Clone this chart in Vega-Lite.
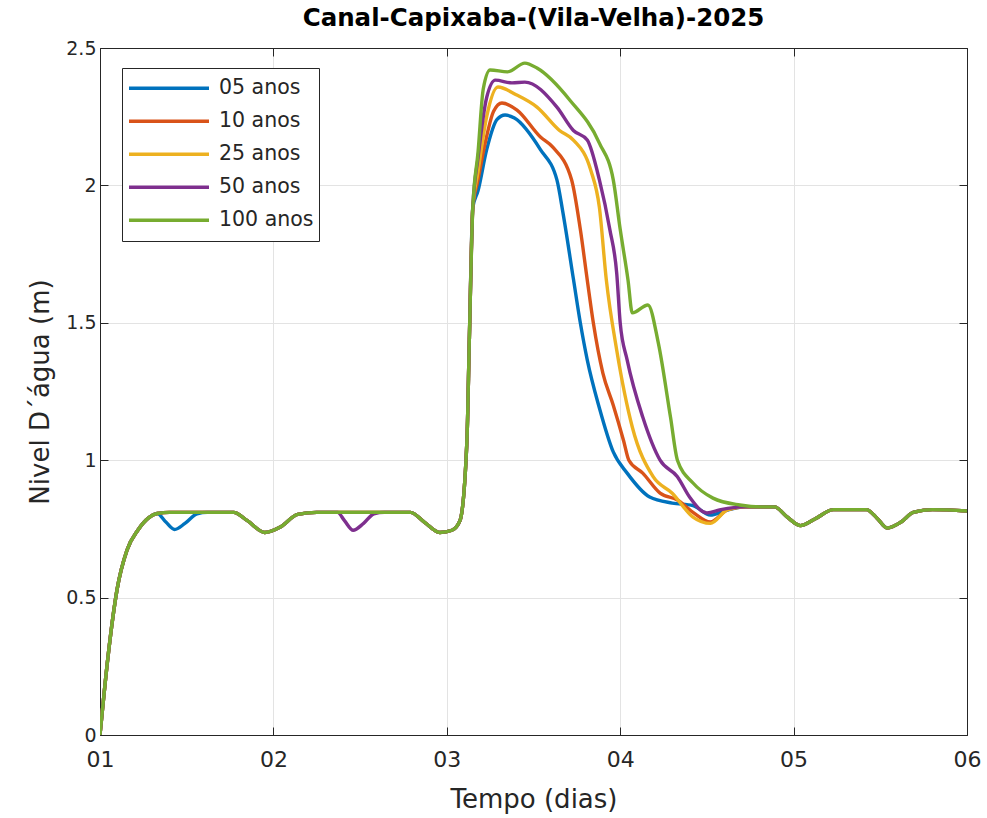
{
  "$schema": "https://vega.github.io/schema/vega-lite/v6.json",
  "width": 867,
  "height": 687,
  "autosize": {"type": "none"},
  "padding": {"left": 100, "top": 48, "right": 20, "bottom": 83},
  "background": "white",
  "config": {
    "view": {"stroke": "#262626", "strokeWidth": 1},
    "font": "DejaVu Sans"
  },
  "title": {
    "text": "Canal-Capixaba-(Vila-Velha)-2025",
    "font": "DejaVu Sans",
    "fontSize": 24.5,
    "fontWeight": "bold",
    "color": "#000000",
    "offset": 8,
    "anchor": "middle"
  },
  "data": {
    "values": [
      {"s":"05 anos","t":1.000,"v":0},{"s":"05 anos","t":1.046,"v":0.284},{"s":"05 anos","t":1.098,"v":0.528},{"s":"05 anos","t":1.156,"v":0.673},{"s":"05 anos","t":1.219,"v":0.746},{"s":"05 anos","t":1.28,"v":0.79},{"s":"05 anos","t":1.33,"v":0.806},
      {"s":"05 anos","t":1.38,"v":0.775},{"s":"05 anos","t":1.43,"v":0.748},{"s":"05 anos","t":1.49,"v":0.77},{"s":"05 anos","t":1.56,"v":0.805},{"s":"05 anos","t":1.62,"v":0.81},
      {"s":"05 anos","t":1.77,"v":0.81},{"s":"05 anos","t":1.85,"v":0.78},{"s":"05 anos","t":1.95,"v":0.737},{"s":"05 anos","t":2.04,"v":0.757},{"s":"05 anos","t":2.14,"v":0.803},{"s":"05 anos","t":2.25,"v":0.81},{"s":"05 anos","t":2.37,"v":0.81},
      {"s":"05 anos","t":2.50,"v":0.81},{"s":"05 anos","t":2.64,"v":0.81},
      {"s":"05 anos","t":2.79,"v":0.81},{"s":"05 anos","t":2.87,"v":0.775},{"s":"05 anos","t":2.96,"v":0.737},{"s":"05 anos","t":3.03,"v":0.745},{"s":"05 anos","t":3.076,"v":0.78},{"s":"05 anos","t":3.116,"v":1.07},{"s":"05 anos","t":3.13,"v":1.44},{"s":"05 anos","t":3.15,"v":1.92},
      {"s":"05 anos","t":3.18,"v":1.98},{"s":"05 anos","t":3.23,"v":2.13},{"s":"05 anos","t":3.29,"v":2.24},{"s":"05 anos","t":3.336,"v":2.256},{"s":"05 anos","t":3.39,"v":2.245},{"s":"05 anos","t":3.54,"v":2.13},{"s":"05 anos","t":3.635,"v":2.02},{"s":"05 anos","t":3.67,"v":1.90},{"s":"05 anos","t":3.73,"v":1.66},{"s":"05 anos","t":3.77,"v":1.50},{"s":"05 anos","t":3.81,"v":1.365},{"s":"05 anos","t":3.88,"v":1.19},{"s":"05 anos","t":3.96,"v":1.03},{"s":"05 anos","t":4.04,"v":0.953},{"s":"05 anos","t":4.17,"v":0.866},{"s":"05 anos","t":4.30,"v":0.844},{"s":"05 anos","t":4.42,"v":0.835},{"s":"05 anos","t":4.52,"v":0.80},{"s":"05 anos","t":4.60,"v":0.815},{"s":"05 anos","t":4.72,"v":0.83},
      {"s":"05 anos","t":4.81,"v":0.83},{"s":"05 anos","t":4.89,"v":0.83},{"s":"05 anos","t":4.96,"v":0.795},{"s":"05 anos","t":5.04,"v":0.762},{"s":"05 anos","t":5.12,"v":0.785},{"s":"05 anos","t":5.23,"v":0.82},{"s":"05 anos","t":5.42,"v":0.82},{"s":"05 anos","t":5.48,"v":0.79},{"s":"05 anos","t":5.54,"v":0.753},{"s":"05 anos","t":5.62,"v":0.775},{"s":"05 anos","t":5.69,"v":0.81},{"s":"05 anos","t":5.80,"v":0.82},{"s":"05 anos","t":6.0,"v":0.815},

      {"s":"10 anos","t":1.000,"v":0},{"s":"10 anos","t":1.046,"v":0.284},{"s":"10 anos","t":1.098,"v":0.528},{"s":"10 anos","t":1.156,"v":0.673},{"s":"10 anos","t":1.219,"v":0.746},{"s":"10 anos","t":1.28,"v":0.79},{"s":"10 anos","t":1.33,"v":0.806},
      {"s":"10 anos","t":1.40,"v":0.81},{"s":"10 anos","t":1.50,"v":0.81},{"s":"10 anos","t":1.62,"v":0.81},
      {"s":"10 anos","t":1.77,"v":0.81},{"s":"10 anos","t":1.85,"v":0.78},{"s":"10 anos","t":1.95,"v":0.737},{"s":"10 anos","t":2.04,"v":0.757},{"s":"10 anos","t":2.14,"v":0.803},{"s":"10 anos","t":2.25,"v":0.81},{"s":"10 anos","t":2.37,"v":0.81},
      {"s":"10 anos","t":2.50,"v":0.81},{"s":"10 anos","t":2.64,"v":0.81},
      {"s":"10 anos","t":2.79,"v":0.81},{"s":"10 anos","t":2.87,"v":0.775},{"s":"10 anos","t":2.96,"v":0.737},{"s":"10 anos","t":3.03,"v":0.745},{"s":"10 anos","t":3.076,"v":0.78},{"s":"10 anos","t":3.116,"v":1.07},{"s":"10 anos","t":3.13,"v":1.44},{"s":"10 anos","t":3.15,"v":1.92},
      {"s":"10 anos","t":3.18,"v":2.02},{"s":"10 anos","t":3.22,"v":2.15},{"s":"10 anos","t":3.27,"v":2.27},{"s":"10 anos","t":3.318,"v":2.30},{"s":"10 anos","t":3.405,"v":2.274},{"s":"10 anos","t":3.54,"v":2.176},{"s":"10 anos","t":3.61,"v":2.14},{"s":"10 anos","t":3.72,"v":2.02},{"s":"10 anos","t":3.77,"v":1.84},{"s":"10 anos","t":3.81,"v":1.656},{"s":"10 anos","t":3.845,"v":1.50},{"s":"10 anos","t":3.90,"v":1.317},{"s":"10 anos","t":3.96,"v":1.20},{"s":"10 anos","t":4.02,"v":1.07},{"s":"10 anos","t":4.05,"v":1.0},{"s":"10 anos","t":4.13,"v":0.953},{"s":"10 anos","t":4.23,"v":0.88},{"s":"10 anos","t":4.33,"v":0.855},{"s":"10 anos","t":4.42,"v":0.81},{"s":"10 anos","t":4.52,"v":0.775},{"s":"10 anos","t":4.62,"v":0.82},{"s":"10 anos","t":4.72,"v":0.83},
      {"s":"10 anos","t":4.81,"v":0.83},{"s":"10 anos","t":4.89,"v":0.83},{"s":"10 anos","t":4.96,"v":0.795},{"s":"10 anos","t":5.04,"v":0.762},{"s":"10 anos","t":5.12,"v":0.785},{"s":"10 anos","t":5.23,"v":0.82},{"s":"10 anos","t":5.42,"v":0.82},{"s":"10 anos","t":5.48,"v":0.79},{"s":"10 anos","t":5.54,"v":0.753},{"s":"10 anos","t":5.62,"v":0.775},{"s":"10 anos","t":5.69,"v":0.81},{"s":"10 anos","t":5.80,"v":0.82},{"s":"10 anos","t":6.0,"v":0.815},

      {"s":"25 anos","t":1.000,"v":0},{"s":"25 anos","t":1.046,"v":0.284},{"s":"25 anos","t":1.098,"v":0.528},{"s":"25 anos","t":1.156,"v":0.673},{"s":"25 anos","t":1.219,"v":0.746},{"s":"25 anos","t":1.28,"v":0.79},{"s":"25 anos","t":1.33,"v":0.806},
      {"s":"25 anos","t":1.40,"v":0.81},{"s":"25 anos","t":1.50,"v":0.81},{"s":"25 anos","t":1.62,"v":0.81},
      {"s":"25 anos","t":1.77,"v":0.81},{"s":"25 anos","t":1.85,"v":0.78},{"s":"25 anos","t":1.95,"v":0.737},{"s":"25 anos","t":2.04,"v":0.757},{"s":"25 anos","t":2.14,"v":0.803},{"s":"25 anos","t":2.25,"v":0.81},{"s":"25 anos","t":2.37,"v":0.81},
      {"s":"25 anos","t":2.50,"v":0.81},{"s":"25 anos","t":2.64,"v":0.81},
      {"s":"25 anos","t":2.79,"v":0.81},{"s":"25 anos","t":2.87,"v":0.775},{"s":"25 anos","t":2.96,"v":0.737},{"s":"25 anos","t":3.03,"v":0.745},{"s":"25 anos","t":3.076,"v":0.78},{"s":"25 anos","t":3.116,"v":1.07},{"s":"25 anos","t":3.13,"v":1.44},{"s":"25 anos","t":3.15,"v":1.92},
      {"s":"25 anos","t":3.18,"v":2.05},{"s":"25 anos","t":3.23,"v":2.25},{"s":"25 anos","t":3.295,"v":2.358},{"s":"25 anos","t":3.40,"v":2.33},{"s":"25 anos","t":3.52,"v":2.285},{"s":"25 anos","t":3.65,"v":2.20},{"s":"25 anos","t":3.73,"v":2.165},{"s":"25 anos","t":3.83,"v":2.056},{"s":"25 anos","t":3.88,"v":1.92},{"s":"25 anos","t":3.92,"v":1.656},{"s":"25 anos","t":3.98,"v":1.40},{"s":"25 anos","t":4.07,"v":1.12},{"s":"25 anos","t":4.19,"v":0.94},{"s":"25 anos","t":4.30,"v":0.88},{"s":"25 anos","t":4.42,"v":0.793},{"s":"25 anos","t":4.52,"v":0.77},{"s":"25 anos","t":4.62,"v":0.82},{"s":"25 anos","t":4.72,"v":0.83},
      {"s":"25 anos","t":4.81,"v":0.83},{"s":"25 anos","t":4.89,"v":0.83},{"s":"25 anos","t":4.96,"v":0.795},{"s":"25 anos","t":5.04,"v":0.762},{"s":"25 anos","t":5.12,"v":0.785},{"s":"25 anos","t":5.23,"v":0.82},{"s":"25 anos","t":5.42,"v":0.82},{"s":"25 anos","t":5.48,"v":0.79},{"s":"25 anos","t":5.54,"v":0.753},{"s":"25 anos","t":5.62,"v":0.775},{"s":"25 anos","t":5.69,"v":0.81},{"s":"25 anos","t":5.80,"v":0.82},{"s":"25 anos","t":6.0,"v":0.815},

      {"s":"50 anos","t":1.000,"v":0},{"s":"50 anos","t":1.046,"v":0.284},{"s":"50 anos","t":1.098,"v":0.528},{"s":"50 anos","t":1.156,"v":0.673},{"s":"50 anos","t":1.219,"v":0.746},{"s":"50 anos","t":1.28,"v":0.79},{"s":"50 anos","t":1.33,"v":0.806},
      {"s":"50 anos","t":1.40,"v":0.81},{"s":"50 anos","t":1.50,"v":0.81},{"s":"50 anos","t":1.62,"v":0.81},
      {"s":"50 anos","t":1.77,"v":0.81},{"s":"50 anos","t":1.85,"v":0.78},{"s":"50 anos","t":1.95,"v":0.737},{"s":"50 anos","t":2.04,"v":0.757},{"s":"50 anos","t":2.14,"v":0.803},{"s":"50 anos","t":2.25,"v":0.81},{"s":"50 anos","t":2.37,"v":0.81},
      {"s":"50 anos","t":2.41,"v":0.78},{"s":"50 anos","t":2.46,"v":0.745},{"s":"50 anos","t":2.52,"v":0.77},{"s":"50 anos","t":2.58,"v":0.805},{"s":"50 anos","t":2.64,"v":0.81},
      {"s":"50 anos","t":2.79,"v":0.81},{"s":"50 anos","t":2.87,"v":0.775},{"s":"50 anos","t":2.96,"v":0.737},{"s":"50 anos","t":3.03,"v":0.745},{"s":"50 anos","t":3.076,"v":0.78},{"s":"50 anos","t":3.116,"v":1.07},{"s":"50 anos","t":3.13,"v":1.44},{"s":"50 anos","t":3.15,"v":1.92},
      {"s":"50 anos","t":3.18,"v":2.1},{"s":"50 anos","t":3.23,"v":2.32},{"s":"50 anos","t":3.28,"v":2.383},{"s":"50 anos","t":3.376,"v":2.373},{"s":"50 anos","t":3.45,"v":2.376},{"s":"50 anos","t":3.635,"v":2.285},{"s":"50 anos","t":3.73,"v":2.20},{"s":"50 anos","t":3.81,"v":2.165},{"s":"50 anos","t":3.88,"v":2.02},{"s":"50 anos","t":3.94,"v":1.84},{"s":"50 anos","t":3.98,"v":1.68},{"s":"50 anos","t":4.0,"v":1.50},{"s":"50 anos","t":4.04,"v":1.365},{"s":"50 anos","t":4.13,"v":1.157},{"s":"50 anos","t":4.23,"v":1.00},{"s":"50 anos","t":4.33,"v":0.94},{"s":"50 anos","t":4.40,"v":0.866},{"s":"50 anos","t":4.50,"v":0.808},{"s":"50 anos","t":4.58,"v":0.82},{"s":"50 anos","t":4.72,"v":0.83},
      {"s":"50 anos","t":4.81,"v":0.83},{"s":"50 anos","t":4.89,"v":0.83},{"s":"50 anos","t":4.96,"v":0.795},{"s":"50 anos","t":5.04,"v":0.762},{"s":"50 anos","t":5.12,"v":0.785},{"s":"50 anos","t":5.23,"v":0.82},{"s":"50 anos","t":5.42,"v":0.82},{"s":"50 anos","t":5.48,"v":0.79},{"s":"50 anos","t":5.54,"v":0.753},{"s":"50 anos","t":5.62,"v":0.775},{"s":"50 anos","t":5.69,"v":0.81},{"s":"50 anos","t":5.80,"v":0.82},{"s":"50 anos","t":6.0,"v":0.815},

      {"s":"100 anos","t":1.000,"v":0},{"s":"100 anos","t":1.046,"v":0.284},{"s":"100 anos","t":1.098,"v":0.528},{"s":"100 anos","t":1.156,"v":0.673},{"s":"100 anos","t":1.219,"v":0.746},{"s":"100 anos","t":1.28,"v":0.79},{"s":"100 anos","t":1.33,"v":0.806},
      {"s":"100 anos","t":1.40,"v":0.81},{"s":"100 anos","t":1.50,"v":0.81},{"s":"100 anos","t":1.62,"v":0.81},
      {"s":"100 anos","t":1.77,"v":0.81},{"s":"100 anos","t":1.85,"v":0.78},{"s":"100 anos","t":1.95,"v":0.737},{"s":"100 anos","t":2.04,"v":0.757},{"s":"100 anos","t":2.14,"v":0.803},{"s":"100 anos","t":2.25,"v":0.81},{"s":"100 anos","t":2.37,"v":0.81},
      {"s":"100 anos","t":2.50,"v":0.81},{"s":"100 anos","t":2.64,"v":0.81},
      {"s":"100 anos","t":2.79,"v":0.81},{"s":"100 anos","t":2.87,"v":0.775},{"s":"100 anos","t":2.96,"v":0.737},{"s":"100 anos","t":3.03,"v":0.745},{"s":"100 anos","t":3.076,"v":0.78},{"s":"100 anos","t":3.116,"v":1.07},{"s":"100 anos","t":3.13,"v":1.44},{"s":"100 anos","t":3.15,"v":1.92},
      {"s":"100 anos","t":3.18,"v":2.12},{"s":"100 anos","t":3.21,"v":2.35},{"s":"100 anos","t":3.25,"v":2.42},{"s":"100 anos","t":3.35,"v":2.413},{"s":"100 anos","t":3.45,"v":2.445},{"s":"100 anos","t":3.52,"v":2.427},{"s":"100 anos","t":3.71,"v":2.31},{"s":"100 anos","t":3.88,"v":2.154},{"s":"100 anos","t":3.96,"v":2.02},{"s":"100 anos","t":4.0,"v":1.84},{"s":"100 anos","t":4.045,"v":1.656},{"s":"100 anos","t":4.07,"v":1.536},{"s":"100 anos","t":4.16,"v":1.565},{"s":"100 anos","t":4.22,"v":1.426},{"s":"100 anos","t":4.29,"v":1.157},{"s":"100 anos","t":4.33,"v":1.00},{"s":"100 anos","t":4.42,"v":0.917},{"s":"100 anos","t":4.535,"v":0.862},{"s":"100 anos","t":4.69,"v":0.837},
      {"s":"100 anos","t":4.81,"v":0.83},{"s":"100 anos","t":4.89,"v":0.83},{"s":"100 anos","t":4.96,"v":0.795},{"s":"100 anos","t":5.04,"v":0.762},{"s":"100 anos","t":5.12,"v":0.785},{"s":"100 anos","t":5.23,"v":0.82},{"s":"100 anos","t":5.42,"v":0.82},{"s":"100 anos","t":5.48,"v":0.79},{"s":"100 anos","t":5.54,"v":0.753},{"s":"100 anos","t":5.62,"v":0.775},{"s":"100 anos","t":5.69,"v":0.81},{"s":"100 anos","t":5.80,"v":0.82},{"s":"100 anos","t":6.0,"v":0.815}
    ]
  },
  "layer": [
    {
      "mark": {"type": "line", "interpolate": "monotone", "strokeWidth": 3.4, "clip": true},
      "encoding": {
        "x": {
          "field": "t", "type": "quantitative",
          "scale": {"domain": [1, 6], "nice": false, "zero": false},
          "axis": {
            "values": [1, 2, 3, 4, 5, 6],
            "labelExpr": "'0' + datum.value",
            "labelFlush": false,
            "title": "Tempo (dias)",
            "grid": true, "gridColor": "#e3e3e3", "gridWidth": 1,
            "domainColor": "#262626", "tickColor": "#262626", "tickSize": -8,
            "labelFont": "DejaVu Sans", "labelFontSize": 22, "labelColor": "#262626", "labelPadding": 22,
            "titleFont": "DejaVu Sans", "titleFontSize": 26, "titleFontWeight": "normal", "titleColor": "#262626", "titlePadding": 16
          }
        },
        "y": {
          "field": "v", "type": "quantitative",
          "scale": {"domain": [0, 2.5], "nice": false},
          "axis": {
            "values": [0, 0.5, 1, 1.5, 2, 2.5],
            "format": "~g",
            "labelFlush": false,
            "title": "Nivel D´água (m)",
            "grid": true, "gridColor": "#e3e3e3", "gridWidth": 1,
            "domainColor": "#262626", "tickColor": "#262626", "tickSize": -8,
            "labelFont": "DejaVu Sans", "labelFontSize": 19, "labelColor": "#262626", "labelPadding": 12,
            "titleFont": "DejaVu Sans", "titleFontSize": 26, "titleFontWeight": "normal", "titleColor": "#262626", "titlePadding": 12
          }
        },
        "color": {
          "field": "s", "type": "nominal",
          "scale": {
            "domain": ["05 anos", "10 anos", "25 anos", "50 anos", "100 anos"],
            "range": ["#0072BD", "#D95319", "#EDB120", "#7E2F8E", "#77AC30"]
          },
          "legend": {
            "title": null,
            "orient": "none",
            "legendX": 22,
            "legendY": 20,
            "symbolType": "stroke",
            "symbolSize": 6400,
            "symbolStrokeWidth": 3.5,
            "clipHeight": 30.6,
            "rowPadding": 2,
            "padding": 5,
            "labelOffset": 8,
            "labelFont": "DejaVu Sans",
            "labelFontSize": 20.5,
            "labelColor": "#262626",
            "strokeColor": "#262626",
            "fillColor": "#ffffff",
            "cornerRadius": 0
          }
        }
      }
    },
    {
      "mark": {"type": "line", "strokeOpacity": 0, "clip": true},
      "encoding": {
        "x": {
          "field": "t", "type": "quantitative",
          "scale": {"domain": [1, 6], "nice": false, "zero": false},
          "axis": {"orient": "top", "values": [1, 2, 3, 4, 5, 6], "labels": false, "title": null, "grid": false, "domainColor": "#262626", "tickColor": "#262626", "tickSize": -8}
        },
        "y": {
          "field": "v", "type": "quantitative",
          "scale": {"domain": [0, 2.5], "nice": false},
          "axis": {"orient": "right", "values": [0, 0.5, 1, 1.5, 2, 2.5], "labels": false, "title": null, "grid": false, "domainColor": "#262626", "tickColor": "#262626", "tickSize": -8}
        },
        "detail": {"field": "s", "type": "nominal"}
      }
    }
  ],
  "resolve": {"axis": {"x": "independent", "y": "independent"}}
}
